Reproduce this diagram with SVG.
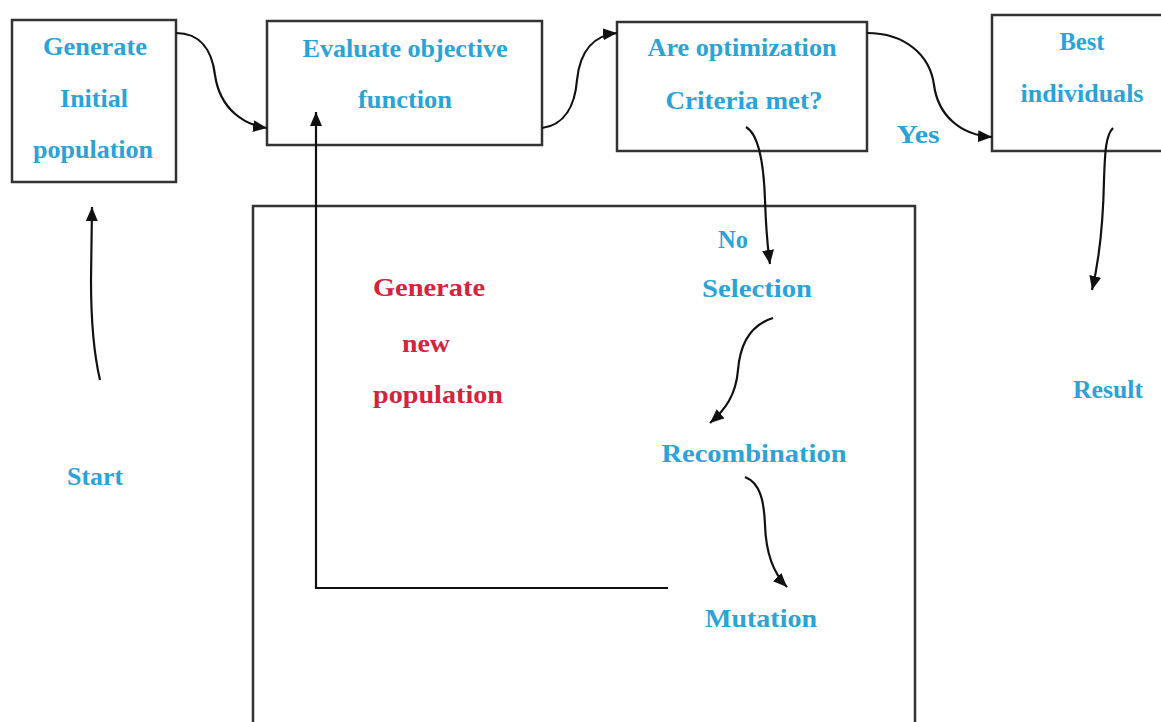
<svg xmlns="http://www.w3.org/2000/svg" width="1161" height="722" viewBox="0 0 1161 722">
<defs>
<marker id="ah" markerUnits="userSpaceOnUse" markerWidth="16" markerHeight="14" refX="14" refY="6" orient="auto">
<path d="M0,0 L14,6 L0,12 Z" fill="#111"/>
</marker>
<style>
.box{fill:#fff;stroke:#333;stroke-width:2.5}
.t{font-family:"Liberation Serif","Times New Roman",serif;font-weight:bold;font-size:26px;fill:#2aa3d6;text-anchor:middle}
.r{fill:#d4233d}
.c{fill:none;stroke:#111;stroke-width:2.2}
.ca{fill:none;stroke:#111;stroke-width:2.2;marker-end:url(#ah)}
</style>
</defs>
<rect width="1161" height="722" fill="#fff"/>
<g id="outer-frame"><rect class="box" x="253" y="206" width="662" height="530"/></g>
<g id="node-generate-initial">
<rect class="box" x="12" y="20" width="164" height="162"/>
<text class="t" x="95" y="55" textLength="104" lengthAdjust="spacingAndGlyphs">Generate</text>
<text class="t" x="94" y="107" textLength="68" lengthAdjust="spacingAndGlyphs">Initial</text>
<text class="t" x="93" y="158" textLength="120" lengthAdjust="spacingAndGlyphs">population</text>
</g>
<g id="node-evaluate">
<rect class="box" x="267" y="21" width="275" height="124"/>
<text class="t" x="405" y="57" textLength="205" lengthAdjust="spacingAndGlyphs">Evaluate objective</text>
<text class="t" x="405" y="108" textLength="94" lengthAdjust="spacingAndGlyphs">function</text>
</g>
<g id="node-criteria">
<rect class="box" x="617" y="22" width="250" height="129"/>
<text class="t" x="742" y="56" textLength="189" lengthAdjust="spacingAndGlyphs">Are optimization</text>
<text class="t" x="744" y="109" textLength="157" lengthAdjust="spacingAndGlyphs">Criteria met?</text>
</g>
<g id="node-best">
<rect class="box" x="992" y="15" width="180" height="136"/>
<text class="t" x="1082" y="50" textLength="45" lengthAdjust="spacingAndGlyphs">Best</text>
<text class="t" x="1082" y="102" textLength="123" lengthAdjust="spacingAndGlyphs">individuals</text>
</g>
<g id="labels">
<text class="t" x="918" y="143" textLength="43" lengthAdjust="spacingAndGlyphs">Yes</text>
<text class="t" x="733" y="248" textLength="30" lengthAdjust="spacingAndGlyphs">No</text>
<text class="t" x="757" y="297" textLength="110" lengthAdjust="spacingAndGlyphs">Selection</text>
<text class="t" x="754" y="462" textLength="185" lengthAdjust="spacingAndGlyphs">Recombination</text>
<text class="t" x="761" y="627" textLength="112" lengthAdjust="spacingAndGlyphs">Mutation</text>
<text class="t" x="95" y="485" textLength="56" lengthAdjust="spacingAndGlyphs">Start</text>
<text class="t" x="1108" y="398" textLength="70" lengthAdjust="spacingAndGlyphs">Result</text>
<text class="t r" x="429" y="296" textLength="112" lengthAdjust="spacingAndGlyphs">Generate</text>
<text class="t r" x="426" y="352" textLength="48" lengthAdjust="spacingAndGlyphs">new</text>
<text class="t r" x="438" y="403" textLength="130" lengthAdjust="spacingAndGlyphs">population</text>
</g>
<g id="connectors">
<path class="ca" d="M176,33 C200,33 212,50 215,75 C220,110 245,125 267,128"/>
<path class="ca" d="M542,128 C565,125 575,105 577,80 C580,50 595,35 617,33"/>
<path class="ca" d="M867,33 C905,33 930,55 934,85 C938,115 960,135 992,137"/>
<path class="ca" d="M746,127 C760,135 764,170 765,200 C766,230 768,250 770,264"/>
<path class="ca" d="M773,318 C750,325 740,345 738,370 C736,395 725,410 710,423"/>
<path class="ca" d="M745,477 C760,483 764,500 765,525 C766,555 775,575 787,587"/>
<path class="ca" d="M1113,128 C1106,135 1105,150 1104,180 C1103,230 1098,265 1092,290"/>
<path class="ca" d="M100,380 C93,350 91,320 91,280 L92,207"/>
<path class="ca" d="M668,588 L316,588 L316,112"/>
</g>
</svg>
